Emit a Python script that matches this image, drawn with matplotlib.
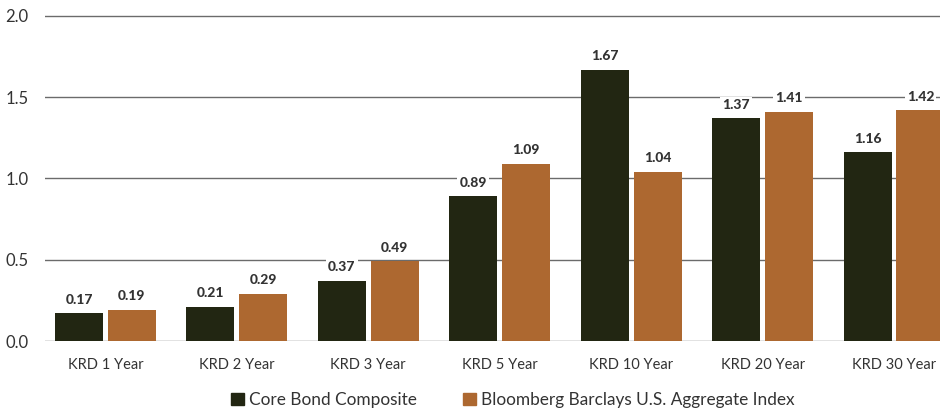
import matplotlib
matplotlib.use("Agg")
import matplotlib.pyplot as plt
import numpy as np
from matplotlib.patches import Patch

categories = ["KRD 1 Year", "KRD 2 Year", "KRD 3 Year", "KRD 5 Year",
              "KRD 10 Year", "KRD 20 Year", "KRD 30 Year"]
core = [0.17, 0.21, 0.37, 0.89, 1.67, 1.37, 1.16]
agg = [0.19, 0.29, 0.49, 1.09, 1.04, 1.41, 1.42]
series_names = ["Core Bond Composite", "Bloomberg Barclays U.S. Aggregate Index"]
yticks = [0.0, 0.5, 1.0, 1.5, 2.0]

c_dark = "#222612"
c_orange = "#AD6830"
txt = "#333333"

plt.rcParams['font.family'] = ['Lato', 'DejaVu Sans']

fig = plt.figure(figsize=(9.40, 4.13), dpi=100)
ax = fig.add_axes([45/940, 1-341/413, 1-45/940, (341-14)/413])

x = np.arange(len(categories))
w = 0.365
off = 0.2015
b1 = ax.bar(x - off, core, w, color=c_dark, zorder=2)
b2 = ax.bar(x + off, agg, w, color=c_orange, zorder=2)

for bars in (b1, b2):
    for r in bars:
        v = r.get_height()
        ax.annotate(f"{v:.2f}", (r.get_x() + r.get_width()/2, v),
                    xytext=(0, 5.5), textcoords="offset points",
                    ha="center", va="bottom", fontsize=10, fontweight=900,
                    color=txt, zorder=4,
                    bbox=dict(boxstyle="square,pad=0.15", fc="white", ec="none"))

ax.set_xlim(-0.46, 6.35)
ax.set_ylim(0, 2.0 * 327/325)
ax.set_yticks(yticks)
ax.set_yticklabels([f"{t:.1f}" for t in yticks])
ax.set_xticks(x)
ax.set_xticklabels(categories)
ax.tick_params(axis="both", length=0, labelsize=10.5, colors=txt)
ax.tick_params(axis="y", pad=12)
ax.tick_params(axis="x", pad=12)
for lab in ax.get_yticklabels():
    lab.set_fontsize(12)
ax.grid(axis="y", color="#6b6b6b", linewidth=1.0, zorder=0)
ax.set_axisbelow(True)
for s in ax.spines.values():
    s.set_visible(False)

handles = [Patch(color=c_dark, label=series_names[0]),
           Patch(color=c_orange, label=series_names[1])]
fig.legend(handles=handles, loc="center", bbox_to_anchor=(513/940, 1-400/413),
           ncol=2, frameon=False, fontsize=12.4, handlelength=0.75, handleheight=0.75,
           handletextpad=0.3, columnspacing=2.7, labelcolor=txt)

fig.savefig("out.png", dpi=100)
